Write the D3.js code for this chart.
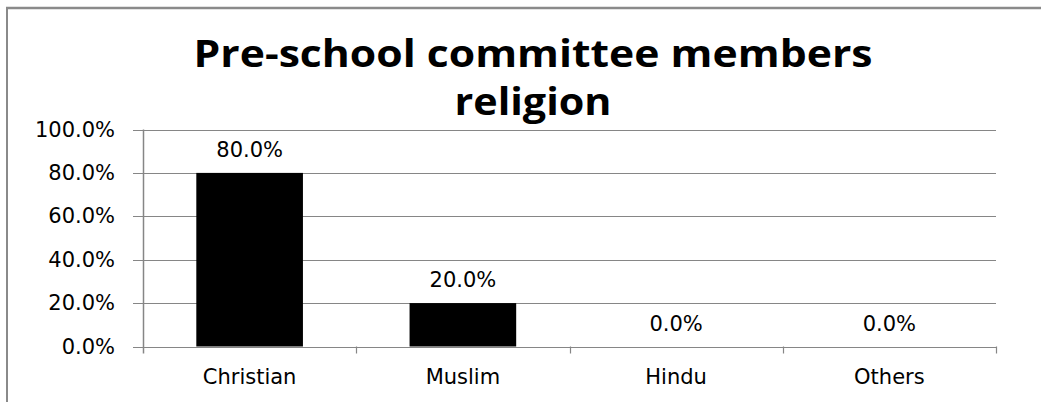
<!DOCTYPE html>
<html>
<head>
<meta charset="utf-8">
<script src="https://cdn.jsdelivr.net/npm/d3@7"></script>
<style>
  html, body { margin: 0; padding: 0; background: #fff; }
  svg { display: block; }
</style>
</head>
<body>
<svg id="chart" width="1041" height="402"></svg>
<script>
const categories = ["Christian", "Muslim", "Hindu", "Others"];
const values = [0.80, 0.20, 0.00, 0.00];
const yTicks = [0, 0.2, 0.4, 0.6, 0.8, 1.0];
const titleLines = ["Pre-school committee members", "religion"];

(function () {
const svg = d3.select("#chart");
const W = 1041, H = 402;
const pLeft = 143, pRight = 996, pTop = 129.5, pBottom = 346.5;
const gridColor = "#868686";
const labelFont = "'DejaVu Sans', sans-serif";

svg.append("rect").attr("width", W).attr("height", H).attr("fill", "#fff");

// outer border (left and top visible)
svg.append("line").attr("x1", 7).attr("x2", 7).attr("y1", 7).attr("y2", H)
  .attr("stroke", "#8a8a8a").attr("stroke-width", 2);
svg.append("line").attr("x1", 6).attr("x2", W).attr("y1", 8).attr("y2", 8)
  .attr("stroke", "#8a8a8a").attr("stroke-width", 2.5);

const x = d3.scaleBand().domain(categories).range([pLeft, pRight])
  .paddingInner(0.5).paddingOuter(0.25);
const y = d3.scaleLinear().domain([0, 1]).range([pBottom, pTop]);
const fmt = d3.format(".1%");

// gridlines + outer ticks
svg.append("g").selectAll("line").data(yTicks).join("line")
  .attr("x1", pLeft - 10).attr("x2", pRight)
  .attr("y1", d => Math.round(y(d)) + 0.5).attr("y2", d => Math.round(y(d)) + 0.5)
  .attr("stroke", gridColor).attr("stroke-width", 1.2);

// y axis line
svg.append("line").attr("x1", pLeft + 0.5).attr("x2", pLeft + 0.5)
  .attr("y1", pTop).attr("y2", pBottom + 7)
  .attr("stroke", gridColor).attr("stroke-width", 1.5);

// category boundary ticks
const step = x.step();
const bounds = d3.range(categories.length + 1).map(i => x.range()[0] + i * step);
svg.append("g").selectAll("line").data(bounds.slice(1)).join("line")
  .attr("x1", d => Math.round(d) + 0.5).attr("x2", d => Math.round(d) + 0.5)
  .attr("y1", pBottom).attr("y2", pBottom + 7)
  .attr("stroke", gridColor).attr("stroke-width", 1.2);

// y tick labels
svg.append("g").selectAll("text").data(yTicks).join("text")
  .attr("x", 115).attr("y", d => y(d) + 7)
  .attr("text-anchor", "end")
  .attr("font-family", labelFont).attr("font-size", 21)
  .attr("fill", "#000")
  .text(d => fmt(d));

// bars
svg.append("g").selectAll("rect").data(values).join("rect")
  .attr("x", (d, i) => x(categories[i]))
  .attr("width", x.bandwidth())
  .attr("y", d => y(d))
  .attr("height", d => y(0) - y(d))
  .attr("fill", "#000");

// value labels
svg.append("g").selectAll("text").data(values).join("text")
  .attr("x", (d, i) => x(categories[i]) + x.bandwidth() / 2)
  .attr("y", d => y(d) - 16)
  .attr("text-anchor", "middle")
  .attr("font-family", labelFont).attr("font-size", 21)
  .attr("fill", "#000")
  .text(d => fmt(d));

// category labels
svg.append("g").selectAll("text").data(categories).join("text")
  .attr("x", d => x(d) + x.bandwidth() / 2)
  .attr("y", 384)
  .attr("text-anchor", "middle")
  .attr("font-family", labelFont).attr("font-size", 21)
  .attr("fill", "#000")
  .text(d => d);

// title
const titleWidths = [679, 157];
const titleBase = [67, 115];
svg.append("g").selectAll("text").data(titleLines).join("text")
  .attr("x", 533)
  .attr("y", (d, i) => titleBase[i])
  .attr("text-anchor", "middle")
  .attr("font-family", "'Open Sans', sans-serif")
  .attr("font-weight", "bold")
  .attr("font-size", 38)
  .attr("textLength", (d, i) => titleWidths[i])
  .attr("lengthAdjust", "spacingAndGlyphs")
  .attr("fill", "#000")
  .text(d => d);
})();
</script>
</body>
</html>
